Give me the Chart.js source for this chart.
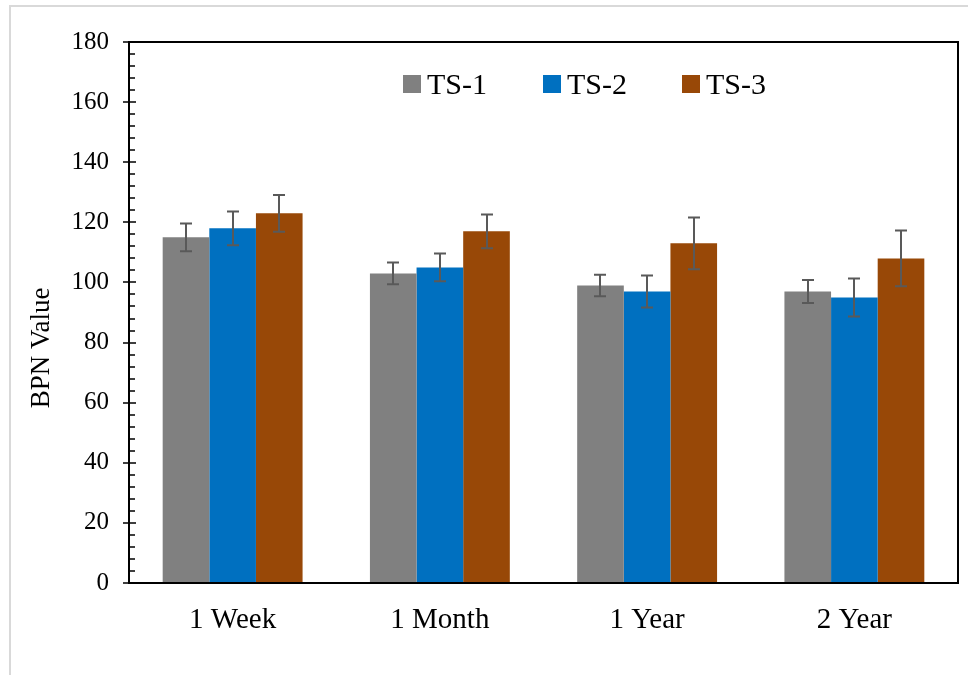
<!DOCTYPE html>
<html>
<head>
<meta charset="utf-8">
<script src="https://cdn.jsdelivr.net/npm/chart.js@4.4.1/dist/chart.umd.min.js"></script>
<style>
  html, body { margin: 0; padding: 0; background: #fff; }
  #wrap { position: relative; width: 968px; height: 675px; overflow: hidden; }
  #frame { position: absolute; left: 9px; top: 5px; width: 1000px; height: 700px;
           border-left: 2px solid #d9d9d9; border-top: 2px solid #d9d9d9; }
  canvas { position: absolute; left: 0; top: 0; }
</style>
</head>
<body>
<div id="wrap">
  <div id="frame"></div>
  <canvas id="bpnChart" width="968" height="675"></canvas>
</div>
<script>
// BPN value by storage period, three samples, with error bars
const categories = ['1 Week', '1 Month', '1 Year', '2 Year'];
const seriesNames = ['TS-1', 'TS-2', 'TS-3'];
const ts1 = [115, 103, 99, 97];
const ts2 = [118, 105, 97, 95];
const ts3 = [123, 117, 113, 108];
const ts1Err = [4.6, 3.6, 3.6, 3.8];
const ts2Err = [5.6, 4.6, 5.3, 6.3];
const ts3Err = [6.1, 5.6, 8.6, 9.3];
const yTicks = [0, 20, 40, 60, 80, 100, 120, 140, 160, 180];

const colours = ['#808080', '#0070c0', '#984807'];
const serif = "'Liberation Serif', 'Times New Roman', serif";

// error bars with small caps, drawn from the value scale
const errorBars = {
  id: 'errorBars',
  afterDatasetsDraw(chart) {
    const ctx = chart.ctx;
    const y = chart.scales.y;
    ctx.save();
    ctx.strokeStyle = '#595959';
    ctx.lineWidth = 2;
    chart.data.datasets.forEach((ds, di) => {
      const meta = chart.getDatasetMeta(di);
      meta.data.forEach((bar, i) => {
        const v = ds.data[i], e = ds.errors[i];
        const top = y.getPixelForValue(v + e);
        const bot = y.getPixelForValue(v - e);
        const x = Math.round(bar.x);
        ctx.beginPath();
        ctx.moveTo(x, top); ctx.lineTo(x, bot);
        ctx.moveTo(x - 6, top); ctx.lineTo(x + 6, top);
        ctx.moveTo(x - 6, bot); ctx.lineTo(x + 6, bot);
        ctx.stroke();
      });
    });
    ctx.restore();
  }
};

// plot box, y ticks (major across, minor inside), title and legend
const frameBits = {
  id: 'frameBits',
  afterDraw(chart) {
    const ctx = chart.ctx;
    const a = chart.chartArea;
    const y = chart.scales.y;
    ctx.save();
    ctx.strokeStyle = '#000';
    ctx.lineWidth = 2;
    ctx.strokeRect(a.left, a.top, a.right - a.left, a.bottom - a.top);

    ctx.beginPath();
    for (let v = 0; v <= 180; v += 4) {
      const py = Math.round(y.getPixelForValue(v));
      if (v % 20 === 0) {
        ctx.moveTo(a.left - 6, py); ctx.lineTo(a.left + 7, py);
      } else {
        ctx.moveTo(a.left, py); ctx.lineTo(a.left + 6, py);
      }
    }
    ctx.lineWidth = 1.5;
    ctx.stroke();

    // axis title
    ctx.fillStyle = '#000';
    ctx.font = '27px ' + serif;
    ctx.textAlign = 'center';
    ctx.textBaseline = 'middle';
    ctx.translate(42, 348);
    ctx.rotate(-Math.PI / 2);
    ctx.fillText('BPN Value', 0, 0);
    ctx.setTransform(1, 0, 0, 1, 0, 0);

    // legend inside the plot
    ctx.font = '30px ' + serif;
    ctx.textAlign = 'left';
    ctx.textBaseline = 'alphabetic';
    const boxX = [403, 543, 682];
    seriesNames.forEach((name, i) => {
      ctx.fillStyle = colours[i];
      ctx.fillRect(boxX[i], 75, 18, 18);
      ctx.fillStyle = '#000';
      ctx.fillText(name, boxX[i] + 24, 94);
    });
    ctx.restore();
  }
};

new Chart(document.getElementById('bpnChart'), {
  type: 'bar',
  data: {
    labels: categories,
    datasets: [
      { label: seriesNames[0], data: ts1, errors: ts1Err, backgroundColor: colours[0] },
      { label: seriesNames[1], data: ts2, errors: ts2Err, backgroundColor: colours[1] },
      { label: seriesNames[2], data: ts3, errors: ts3Err, backgroundColor: colours[2] }
    ]
  },
  options: {
    responsive: false,
    animation: false,
    layout: { padding: { top: 42, right: 10, left: 0, bottom: 0 } },
    datasets: { bar: { categoryPercentage: 0.675, barPercentage: 1.0 } },
    plugins: { legend: { display: false }, tooltip: { enabled: false } },
    scales: {
      x: {
        grid: { display: false, drawTicks: false },
        border: { display: false },
        ticks: { color: '#000', font: { family: serif, size: 29 }, padding: 20 },
        afterFit(scale) { scale.height = 92; }
      },
      y: {
        min: 0,
        max: 180,
        afterBuildTicks(scale) { scale.ticks = yTicks.map(v => ({ value: v })); },
        grid: { display: false, drawTicks: false },
        border: { display: false },
        ticks: { color: '#000', font: { family: serif, size: 25 }, padding: 20 },
        afterFit(scale) { scale.width = 129; }
      }
    }
  },
  plugins: [errorBars, frameBits]
});
</script>
</body>
</html>
